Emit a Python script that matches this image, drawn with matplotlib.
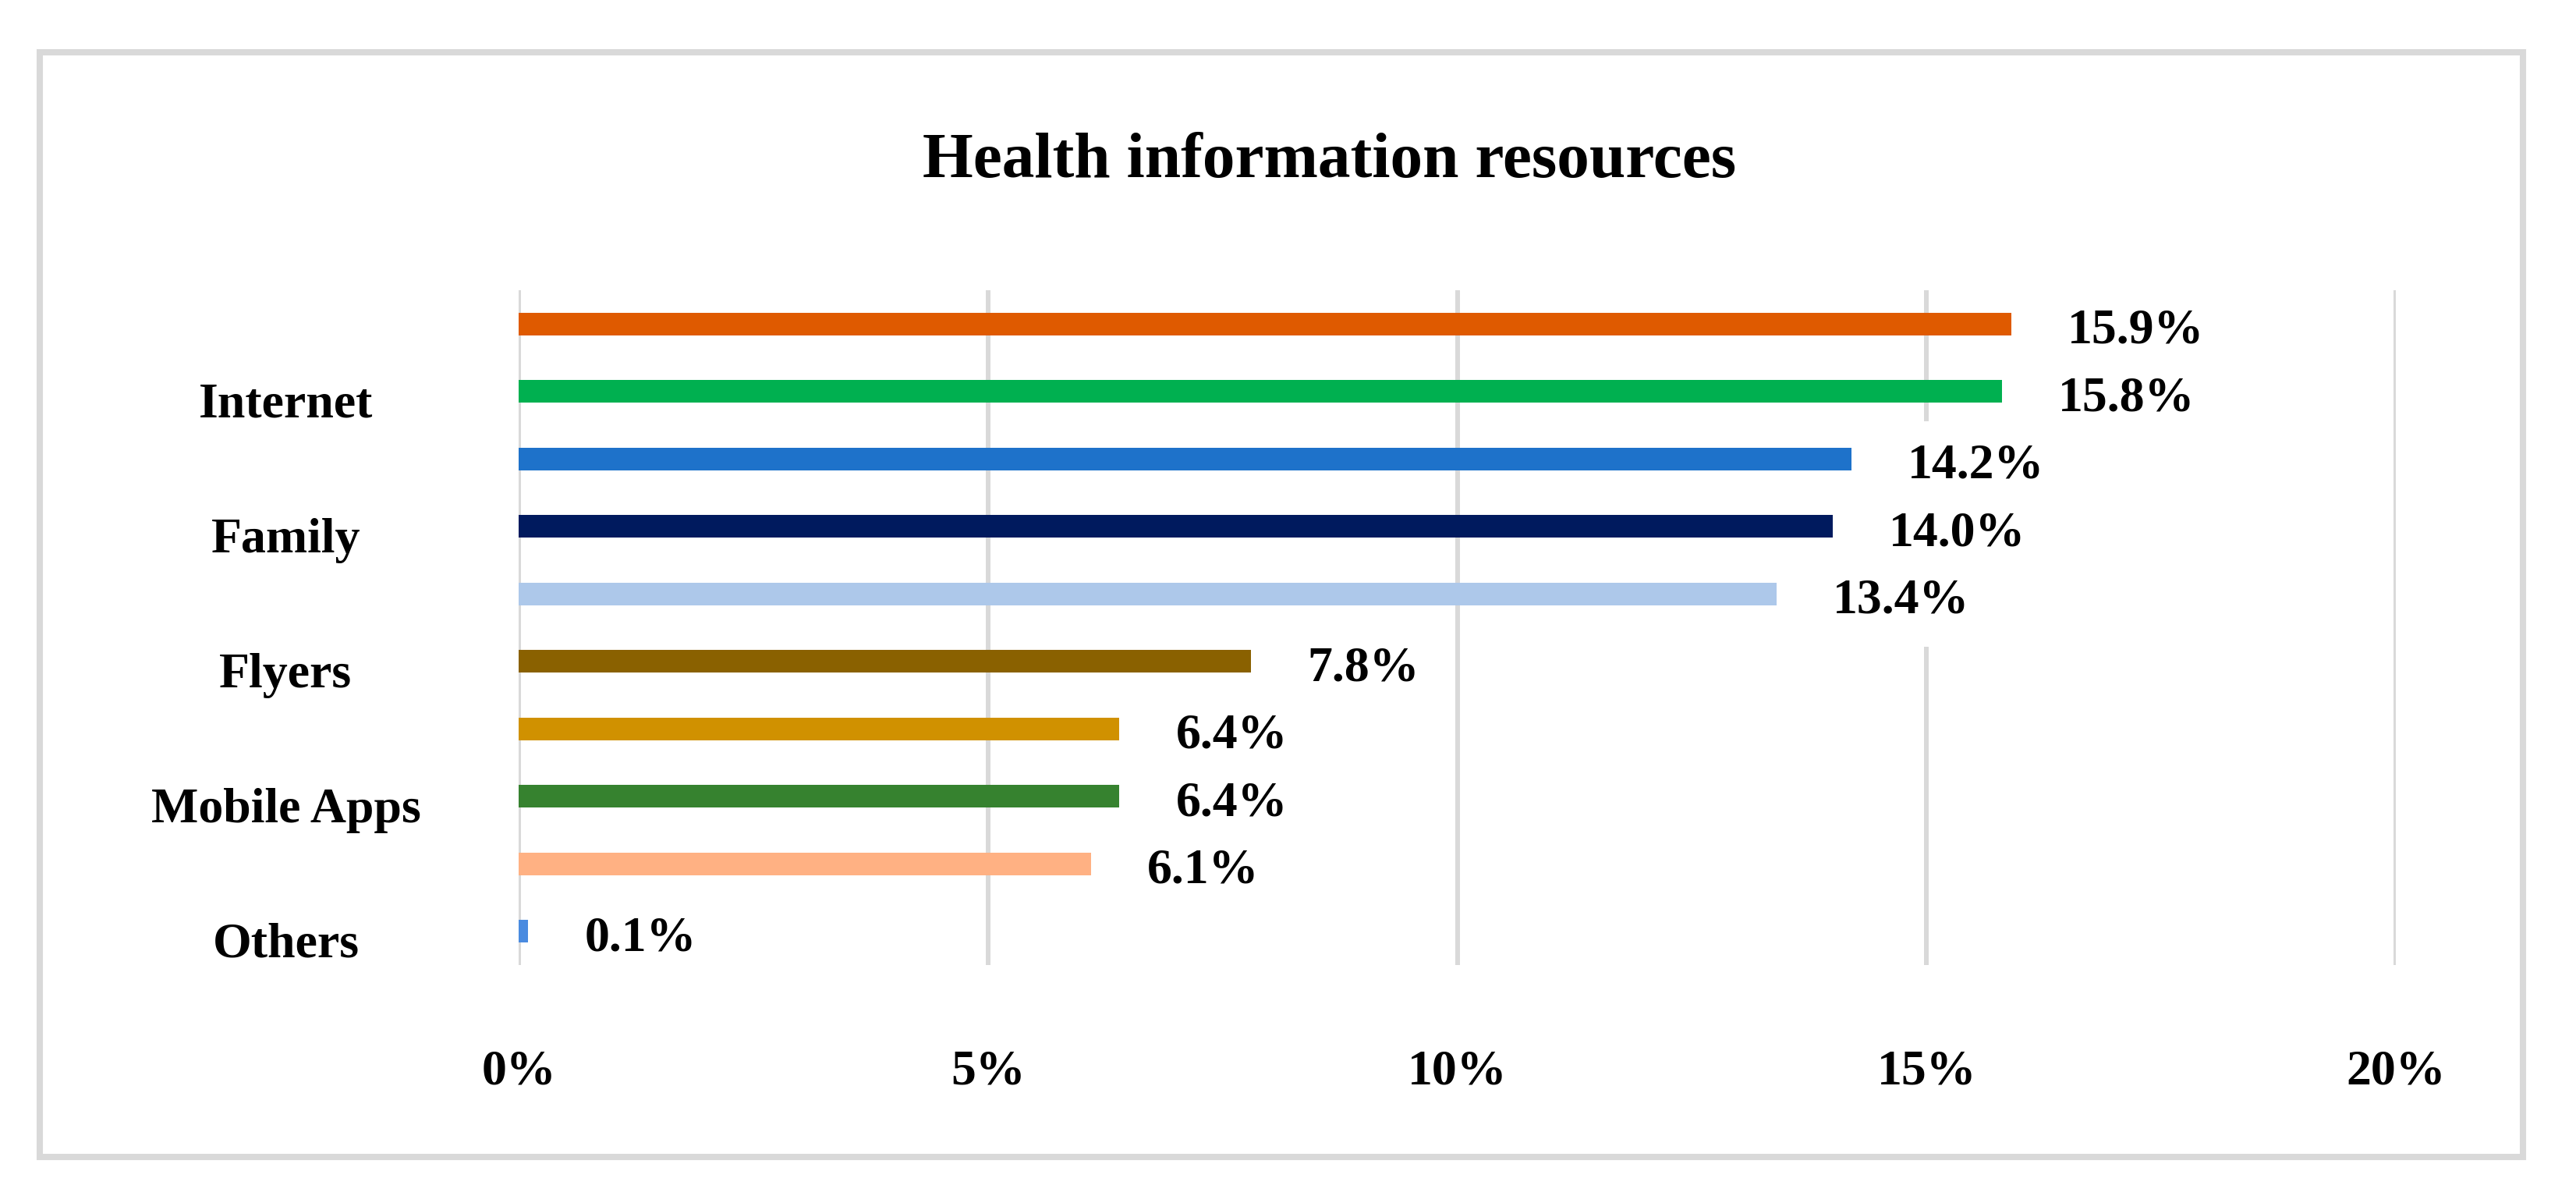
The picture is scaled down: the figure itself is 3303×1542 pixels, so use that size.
import numpy as np
import matplotlib
matplotlib.use("Agg")
import matplotlib.pyplot as plt
import matplotlib.transforms as mtransforms
from matplotlib.patches import Rectangle

# data, top to bottom; Excel only shows every other category name
categories = ["", "Internet", "", "Family", "", "Flyers", "", "Mobile Apps", "", "Others"]
values = [15.9, 15.8, 14.2, 14.0, 13.4, 7.8, 6.4, 6.4, 6.1, 0.1]
colors = ["#DF5A00", "#00B050", "#1E72CA", "#001A5E", "#ADC8EA",
          "#8A6100", "#D09100", "#36822F", "#FFB183", "#4A8BE0"]
xticks = [0, 5, 10, 15, 20]
title = "Health information resources"

plt.rcParams['font.family'] = ['Liberation Serif', 'DejaVu Serif']
plt.rcParams['font.weight'] = 'bold'

W, H = 3303, 1542
fig = plt.figure(figsize=(W / 100, H / 100), dpi=100)

# grey frame round the chart
fig.patches.append(Rectangle((51 / W, 1 - 1483 / H), (3235 - 51) / W, (1483 - 67) / H,
                             transform=fig.transFigure, fill=False,
                             ec="#D9D9D9", lw=5.8))

ax = fig.add_axes([665 / W, 1 - 1237 / H, (3072 - 665) / W, (1237 - 372) / H])

y = np.arange(len(values))
ax.barh(y, values, height=0.34, color=colors, zorder=3)

for yi, v in zip(y, values):
    ax.annotate(f"{v:.1f}%", (v, yi), xytext=(52, -7), textcoords="offset points",
                ha="left", va="center", fontsize=46, fontweight="bold", zorder=4,
                bbox=dict(boxstyle="square,pad=0.45", fc="white", ec="none"))

ax.set_xlim(0, 20)
ax.set_ylim(len(values) - 0.5, -0.5)
ax.set_xticks(xticks)
ax.set_xticklabels([f"{t}%" for t in xticks], fontsize=46, fontweight="bold")
ax.set_yticks(y)
ax.set_yticklabels(categories, fontsize=46, fontweight="bold", ha="center")
ax.tick_params(axis="x", length=0, pad=78)
ax.tick_params(axis="y", length=0, pad=215)

# names sit a little below their bars in the original
shift = mtransforms.ScaledTranslation(0, -8 / 72, fig.dpi_scale_trans)
for lab in ax.get_yticklabels():
    lab.set_transform(lab.get_transform() + shift)

ax.grid(axis="x", color="#D9D9D9", lw=4.3, zorder=0)
ax.grid(axis="y", visible=False)
for s in ax.spines.values():
    s.set_visible(False)

fig.text(0.516, 1 - 207 / H, title, ha="center", va="center",
         fontsize=60, fontweight="bold")

fig.savefig("out.png", dpi=100, facecolor="white")
